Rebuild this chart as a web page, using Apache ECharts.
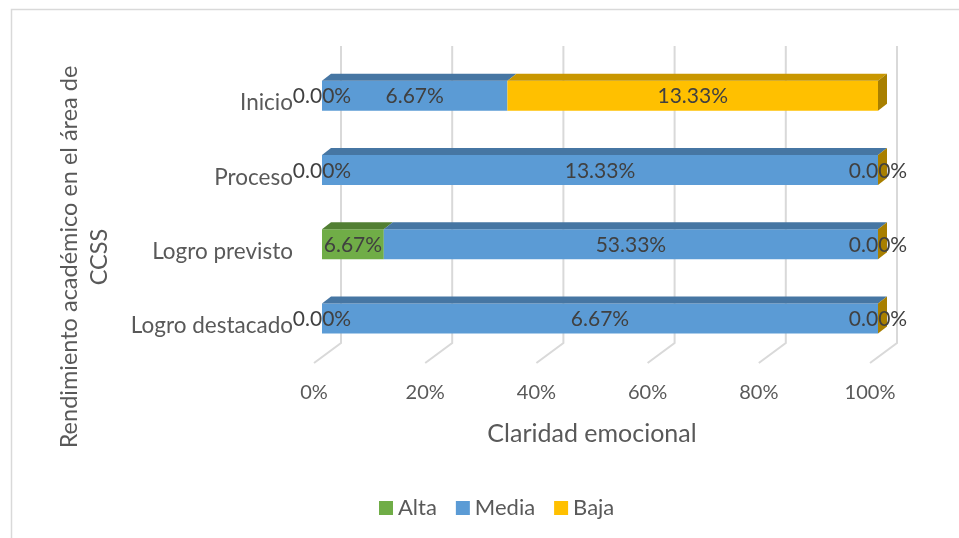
<!DOCTYPE html>
<html>
<head>
<meta charset="utf-8">
<script src="https://cdn.jsdelivr.net/npm/echarts@6/dist/echarts.min.js"></script>
<style>
  html, body { margin: 0; padding: 0; background: #fff; }
  #main { width: 959px; height: 538px; }
</style>
</head>
<body>
<div id="main"></div>
<script>
var myChart = echarts.init(document.getElementById('main'));

// categorias de arriba hacia abajo
var categorias = ['Inicio', 'Proceso', 'Logro previsto', 'Logro destacado'];
var alta  = [0, 0, 6.67, 0];
var media = [6.67, 13.33, 53.33, 6.67];
var baja  = [13.33, 0, 0, 0];
var xTicks = [0, 20, 40, 60, 80, 100];

var font = 'Lato';
var textColor = '#595959';

// colores: frente, cara superior, cara lateral
var estilos = {
    Alta:  { front: '#70AD47', top: '#527F33', side: '#4A722E' },
    Media: { front: '#5B9BD5', top: '#4676A3', side: '#3F6A93' },
    Baja:  { front: '#FFC000', top: '#C99700', side: '#A87F00' }
};

// 100% apilado: se calcula el inicio/fin de cada tramo
function tramos(valores, previos) {
    var out = [];
    for (var i = 0; i < categorias.length; i++) {
        var total = alta[i] + media[i] + baja[i];
        var ini = 0;
        for (var k = 0; k < previos.length; k++) ini += previos[k][i] / total * 100;
        var fin = ini + valores[i] / total * 100;
        out.push([i, ini, fin, valores[i].toFixed(2) + '%']);
    }
    return out;
}

var DX = 8, DY = -7.5;      // desplazamiento del frente de la barra
var DEPTH_X = 9, DEPTH_Y = 7; // profundidad de la barra
var H = 30;

function barra(nombre, ultima) {
    var st = estilos[nombre];
    return function (params, api) {
        var cat = api.value(0);
        var p0 = api.coord([api.value(1), cat]);
        var p1 = api.coord([api.value(2), cat]);
        var x0 = p0[0] + DX, x1 = p1[0] + DX;
        var yc = p0[1] + DY;
        var top = yc - H / 2, bottom = yc + H / 2;
        var children = [
            { type: 'rect', shape: { x: x0, y: top, width: x1 - x0, height: H }, style: { fill: st.front } },
            { type: 'polygon', shape: { points: [[x0, top], [x0 + DEPTH_X, top - DEPTH_Y], [x1 + DEPTH_X, top - DEPTH_Y], [x1, top]] }, style: { fill: st.top } }
        ];
        if (ultima) {
            children.push({ type: 'polygon', shape: { points: [[x1, top], [x1 + DEPTH_X, top - DEPTH_Y], [x1 + DEPTH_X, bottom - DEPTH_Y], [x1, bottom]] }, style: { fill: st.side } });
        }
        children.push({
            type: 'text', z2: 100,
            style: {
                x: (x0 + x1) / 2, y: yc + 1, text: api.value(3),
                align: 'center', verticalAlign: 'middle',
                fill: '#404040', fontFamily: font, fontSize: 21
            }
        });
        return { type: 'group', children: children };
    };
}

function serie(nombre, datos, ultima) {
    return {
        name: nombre,
        type: 'custom',
        z: 3,
        itemStyle: { color: estilos[nombre].front },
        renderItem: barra(nombre, ultima),
        encode: { x: [1, 2], y: 0 },
        data: datos
    };
}

option = {
    animation: false,
    backgroundColor: '#fff',
    textStyle: { fontFamily: font },
    graphic: [
        {
            type: 'rect',
            shape: { x: 11.5, y: 9.5, width: 980, height: 560 },
            style: { fill: 'none', stroke: '#d9d9d9', lineWidth: 1.5 }
        },
        {
            type: 'text',
            x: 84, y: 257,
            rotation: Math.PI / 2,
            style: {
                text: 'Rendimiento académico en el área de\nCCSS',
                align: 'center', verticalAlign: 'middle',
                lineHeight: 30, fontSize: 23.5, fontFamily: font, fill: textColor
            }
        }
    ],
    grid: { left: 314, right: 89, top: 66, bottom: 175 },
    legend: {
        left: 374,
        top: 492,
        itemWidth: 14,
        itemHeight: 14,
        itemGap: 19,
        icon: 'rect',
        textStyle: { fontSize: 22, color: textColor, fontFamily: font },
        data: ['Alta', 'Media', 'Baja']
    },
    xAxis: {
        type: 'value',
        min: 0, max: 100, interval: 20,
        axisLine: { show: false },
        axisTick: { show: false },
        splitLine: { show: false },
        axisLabel: { formatter: '{value}%', margin: 20, fontSize: 20, color: textColor, fontFamily: font },
        name: 'Claridad emocional',
        nameLocation: 'middle',
        nameGap: 58,
        nameTextStyle: { fontSize: 25, color: textColor, fontFamily: font }
    },
    yAxis: {
        type: 'category',
        inverse: true,
        data: categorias,
        axisLine: { show: false },
        axisTick: { show: false },
        splitLine: { show: false },
        axisLabel: { margin: 21, fontSize: 22.5, color: textColor, fontFamily: font }
    },
    series: [
        {
            name: 'grid',
            type: 'custom',
            z: 1,
            silent: true,
            encode: { x: 0 },
            renderItem: function (params, api) {
                var cs = params.coordSys;
                var x = api.coord([api.value(0), 0])[0];
                var yb = cs.y + cs.height;
                return {
                    type: 'polyline',
                    shape: { points: [[x + 27, cs.y - 20], [x + 27, yb - 20], [x, yb]] },
                    style: { stroke: '#d9d9d9', lineWidth: 2, fill: 'none' }
                };
            },
            data: xTicks.map(function (v) { return [v]; })
        },
        serie('Alta', tramos(alta, []), false),
        serie('Media', tramos(media, [alta]), false),
        serie('Baja', tramos(baja, [alta, media]), true)
    ]
};

myChart.setOption(option);
</script>
</body>
</html>
